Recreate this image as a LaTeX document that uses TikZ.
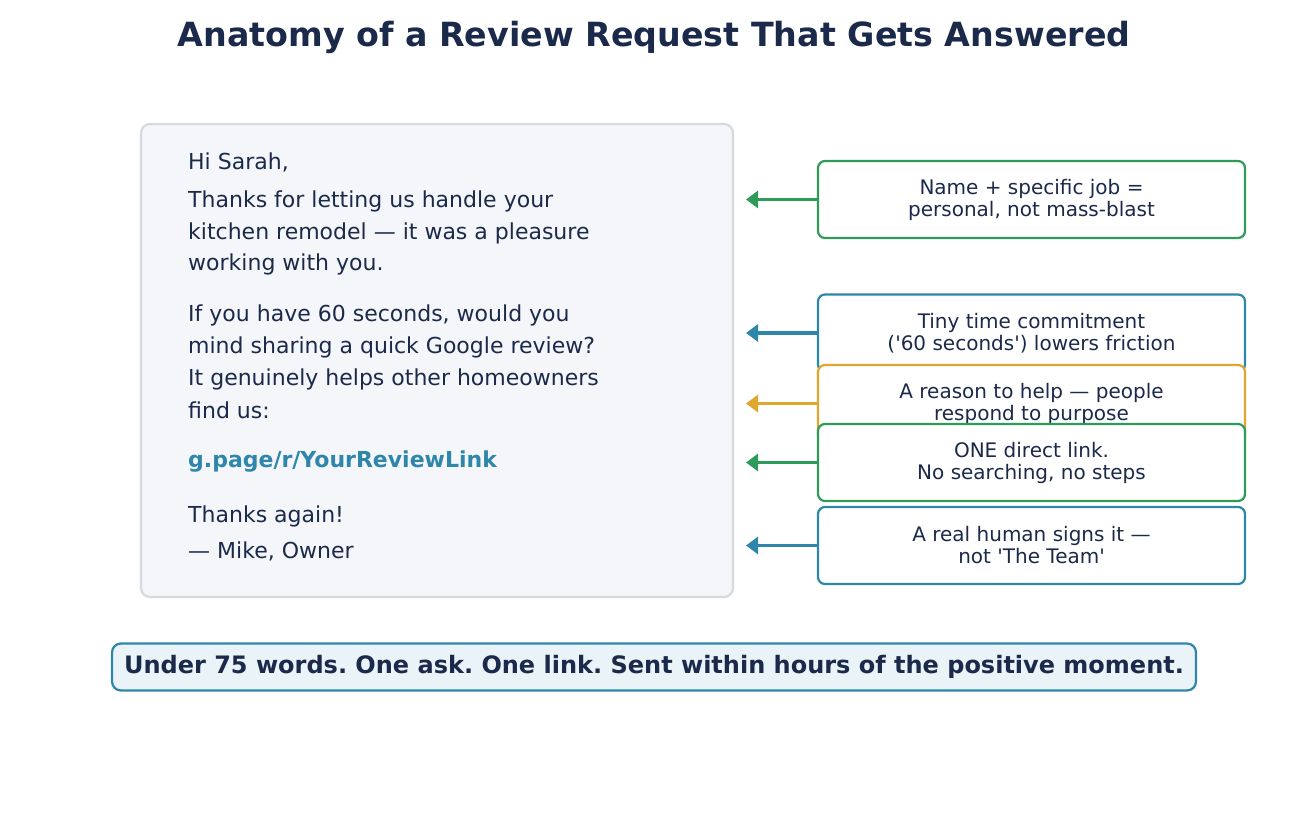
\documentclass[tikz,border=0pt]{standalone}
\usepackage{fontspec}
\setmainfont{DejaVu Sans}
\usetikzlibrary{arrows.meta}
\definecolor{ink}{HTML}{1B2A4A}
\definecolor{cgreen}{HTML}{2E9B5A}
\definecolor{cblue}{HTML}{2E86AB}
\definecolor{corange}{HTML}{E0A72E}
\definecolor{mailfill}{HTML}{F4F6FA}
\definecolor{mailline}{HTML}{D5DAE1}
\definecolor{notefill}{HTML}{EAF3F8}
\frenchspacing
\begin{document}
\begin{tikzpicture}[x=1pt,y=-1pt,
  mailtext/.style={anchor=west,inner sep=0pt,text=ink,font=\fontsize{22}{25}\selectfont},
  callout/.style={draw=#1,line width=2.2pt,fill=white,rounded corners=7pt,minimum width=427pt,minimum height=77pt,align=center,text=ink,font=\fontsize{20}{22}\selectfont,inner sep=0pt},
  pointer/.style={draw=#1,line width=3.6pt,-{Triangle[length=12pt,width=17pt]}}]
\useasboundingbox (0,0) rectangle (1308,815);
\node[text=ink,font=\bfseries\fontsize{33.3}{38}\selectfont] (title) at (654,37) {Anatomy of a Review Request That Gets Answered};
\node[draw=mailline,fill=mailfill,line width=2.2pt,rounded corners=9pt,minimum width=592pt,minimum height=473pt,inner sep=0pt] (mail) at (437,360.5) {};
\node[mailtext] (l1) at (188,162.5) {Hi Sarah,};
\node[mailtext] (l2) at (188,201.5) {Thanks for letting us handle your};
\node[mailtext] (l3) at (188,233.5) {kitchen remodel — it was a pleasure};
\node[mailtext] (l4) at (188,264.5) {working with you.};
\node[mailtext] (l5) at (188,315.5) {If you have 60 seconds, would you};
\node[mailtext] (l6) at (188,347.5) {mind sharing a quick Google review?};
\node[mailtext] (l7) at (188,379.5) {It genuinely helps other homeowners};
\node[mailtext] (l8) at (188,410.5) {find us:};
\node[mailtext,text=cblue,font=\bfseries\fontsize{22}{25}\selectfont] (l9) at (188,461.5) {g.page/r/YourReviewLink};
\node[mailtext] (l10) at (188,516.5) {Thanks again!};
\node[mailtext] (l11) at (188,551.5) {— Mike, Owner};
\node[callout=cgreen] (c1) at (1031.5,199.5) {Name + specific job =\\personal, not mass-blast};
\node[callout=cblue] (c2) at (1031.5,333) {Tiny time commitment\\(\textquotesingle 60 seconds\textquotesingle) lowers friction};
\node[callout=corange] (c3) at (1031.5,403.5) {A reason to help — people\\respond to purpose};
\node[callout=cgreen] (c4) at (1031.5,462.5) {ONE direct link.\\No searching, no steps};
\node[callout=cblue] (c5) at (1031.5,545.5) {A real human signs it —\\not \textquotesingle The Team\textquotesingle};
\coordinate (t1) at (746,199.5);
\coordinate (t2) at (746,333);
\coordinate (t3) at (746,403.5);
\coordinate (t4) at (746,462.5);
\coordinate (t5) at (746,545.5);
\draw[pointer=cgreen] (c1.west) -- (t1);
\draw[pointer=cblue] (c2.west) -- (t2);
\draw[pointer=corange] (c3.west) -- (t3);
\draw[pointer=cgreen] (c4.west) -- (t4);
\draw[pointer=cblue] (c5.west) -- (t5);
\node[draw=cblue,fill=notefill,line width=2.2pt,rounded corners=9pt,minimum width=1084pt,minimum height=47pt,inner sep=0pt,text=ink,font=\bfseries\fontsize{24}{27}\selectfont] (note) at (654,667) {\raisebox{-1.5pt}{Under 75 words. One ask. One link. Sent within hours of the positive moment.}};
\end{tikzpicture}
\end{document}
